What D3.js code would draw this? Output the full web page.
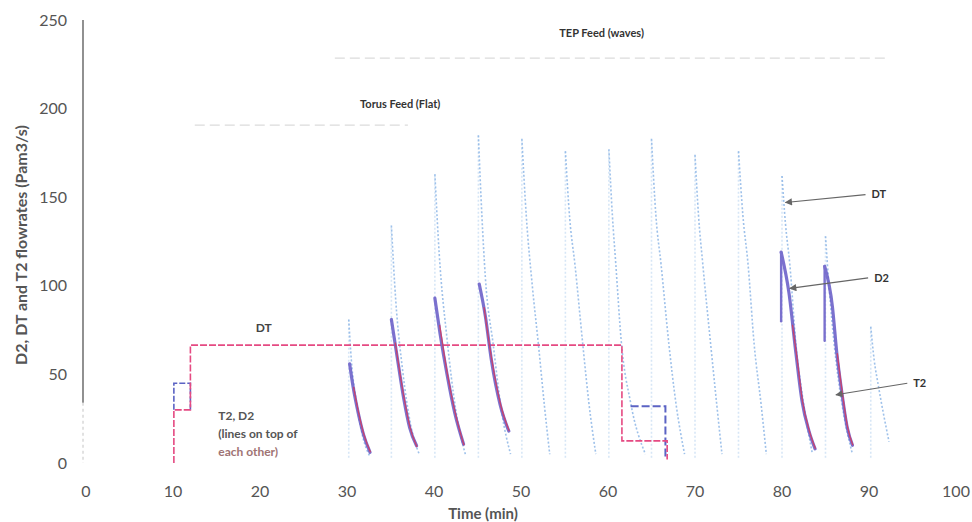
<!DOCTYPE html>
<html><head><meta charset="utf-8">
<script src="https://cdn.jsdelivr.net/npm/d3@7"></script>
<style>
html,body{margin:0;padding:0;background:#fff;}
svg{display:block;font-family:Lato,"Open Sans",sans-serif;}
</style></head>
<body><svg id="chart" width="972" height="522"></svg>
<script>
// ---- data ----
const xTicks = [0,10,20,30,40,50,60,70,80,90,100];
const yTicks = [0,50,100,150,200,250];

// DT (TEP feed) waves: first point = peak (vertical rise from baseline), then decay
const dtWaves = [
  [[30.2,81],[30.5,58],[31.1,34],[31.8,15],[32.6,4]],
  [[35.1,134],[35.6,92],[36.4,52],[37.3,22],[38.3,5]],
  [[40.1,163],[40.6,118],[41.5,70],[42.5,30],[43.6,5]],
  [[45.1,185],[45.5,140],[45.9,105],[46.8,67],[47.8,28],[48.8,5]],
  [[50.1,183],[50.6,140],[51.3,100],[52.0,67],[52.7,32],[53.3,5]],
  [[55.1,176],[55.6,138],[56.2,112],[57.1,67],[57.8,34],[58.6,5]],
  [[60.1,177],[60.5,140],[60.9,112],[61.5,70],[62.6,34],[64.3,5]],
  [[65.0,183],[65.5,140],[66.1,112],[67.0,67],[67.8,34],[68.8,5]],
  [[70.0,174],[70.4,140],[70.9,112],[71.8,67],[72.5,33],[73.1,5]],
  [[75.0,176],[75.5,140],[76.1,112],[76.8,67],[77.6,33],[78.2,5]],
  [[80.0,162],[80.4,135],[80.9,112],[81.6,67],[82.5,33],[83.5,5]],
  [[85.0,128],[85.4,100],[86.0,67],[86.9,33],[88.1,5]],
  [[90.2,77],[90.6,58],[91.1,43],[92.3,12]]
];
const dtBase = 3;

// D2 waves (purple)
const d2Waves = [
  [[30.3,56],[30.7,43],[31.3,28],[31.9,16],[32.65,6]],
  [[35.1,81],[35.7,62],[36.5,37],[37.2,20],[38.0,9.7]],
  [[40.1,93],[40.7,73],[41.5,50],[42.4,28],[43.4,10.6]],
  [[45.2,101],[45.9,83],[46.6,58],[47.6,33],[48.6,18]],
  [[79.9,119],[80.8,96],[81.6,62],[82.3,35],[83.1,18],[83.8,8]],
  [[84.9,111],[85.8,88],[86.3,62],[86.9,39],[87.5,20],[88.1,10]]
];
// D2 rises (t, start value, peak value) for the last two pulses
const d2Rises = [[79.9,80,119],[84.9,69,111]];

// T2 waves (red), lying on the D2 decays
const t2Waves = [
  [[30.75,43],[31.35,28],[31.95,16],[32.7,6]],
  [[35.55,68],[36.55,37],[37.25,20],[38.05,9]],
  [[40.65,78],[41.55,50],[42.45,28],[43.45,10]],
  [[45.75,88],[46.65,58],[47.65,33],[48.65,18]],
  [[81.2,78],[81.65,62],[82.35,35],[83.15,18],[83.85,8]],
  [[86.35,62],[86.95,39],[87.55,20],[88.15,10]]
];

// Flat (torus feed) lines
const flatDT = [[10.1,0],[10.1,30],[12,30],[12,66.5],[61.6,66.5],[61.6,12.5],[66.8,12.5],[66.8,2]];
const flatD2a = [[10.1,30],[10.1,45],[12,45],[12,30]];
const flatD2b = [[62.6,32],[66.6,32],[66.6,2]];

// faint annotation guide lines [t0, t1, value]
const tepGuide = [28.6, 92.2, 228.5];
const torusGuide = [12.5, 37.0, 190.7];

// ---- chart ----
const svg = d3.select("#chart");
const x = d3.scaleLinear().domain([0,100]).range([86,956]);
const y = d3.scaleLinear().domain([0,250]).range([463,20]);

// axis line
svg.append("line").attr("x1",x(0)-3).attr("x2",x(0)-3).attr("y1",y(250)).attr("y2",y(34))
  .attr("stroke","#555").attr("stroke-width",1.3);
svg.append("line").attr("x1",x(0)-3).attr("x2",x(0)-3).attr("y1",y(34)).attr("y2",y(0))
  .attr("stroke","#c4c4c4").attr("stroke-width",1).attr("stroke-dasharray","3,3");

// tick labels
svg.append("g").selectAll("text").data(yTicks).join("text")
  .attr("x",67).attr("y",d=>y(d)).attr("dy","0.35em").attr("text-anchor","end")
  .attr("font-size",16).attr("fill","#555").text(d=>d);
svg.append("g").selectAll("text").data(xTicks).join("text")
  .attr("x",d=>x(d)).attr("y",491).attr("dy","0.35em").attr("text-anchor","middle")
  .attr("font-size",16).attr("fill","#555").text(d=>d);

svg.append("text").attr("x",483).attr("y",514).attr("dy","0.35em").attr("text-anchor","middle")
  .attr("font-size",15).attr("font-weight","bold").attr("fill","#555").text("Time (min)");
svg.append("text").attr("transform","translate(21,245) rotate(-90)").attr("dy","0.35em")
  .attr("text-anchor","middle").attr("font-size",16).attr("font-weight","bold").attr("fill","#555")
  .text("D2, DT and T2 flowrates (Pam3/s)");

// guides
[tepGuide, torusGuide].forEach(g=>{
  svg.append("line").attr("x1",x(g[0])).attr("x2",x(g[1])).attr("y1",y(g[2])).attr("y2",y(g[2]))
    .attr("stroke","#dcdcdc").attr("stroke-width",1.2).attr("stroke-dasharray","10,5");
});

const curveLine = d3.line().x(d=>x(d[0])).y(d=>y(d[1])).curve(d3.curveMonotoneX);
const straight = d3.line().x(d=>x(d[0])).y(d=>y(d[1]));

// DT waves
const gDT = svg.append("g").attr("fill","none").attr("stroke","#8db6e6")
  .attr("stroke-width",1.6).attr("stroke-dasharray","2,2");
dtWaves.forEach(w=>{
  gDT.append("path").attr("d",straight([[w[0][0],dtBase],w[0]])).attr("opacity",0.35);
  gDT.append("path").attr("d",curveLine(w)).attr("opacity",0.85);
});

// flat lines
svg.append("path").attr("d",straight(flatD2a)).attr("fill","none").attr("stroke","#5b63c4")
  .attr("stroke-width",1.6).attr("stroke-dasharray","6,2");
svg.append("path").attr("d",straight(flatD2b)).attr("fill","none").attr("stroke","#5b63c4")
  .attr("stroke-width",2).attr("stroke-dasharray","8,3");
svg.append("path").attr("d",straight(flatDT)).attr("fill","none").attr("stroke","#e54a82")
  .attr("stroke-width",1.6).attr("stroke-dasharray","7,2");

// D2 waves
const gD2 = svg.append("g").attr("fill","none").attr("stroke","#6d62c9")
  .attr("stroke-width",3.2).attr("stroke-linecap","round").attr("opacity",0.9);
d2Waves.forEach(w=> gD2.append("path").attr("d",curveLine(w)));
d2Rises.forEach(r=> gD2.append("path").attr("d",straight([[r[0],r[1]],[r[0],r[2]]])).attr("stroke-width",2.4));

// T2 waves
const gT2 = svg.append("g").attr("fill","none").attr("stroke","#d83a5c")
  .attr("stroke-width",1.3).attr("opacity",0.85);
t2Waves.forEach(w=> gT2.append("path").attr("d",curveLine(w)));

// annotations
function label(tx, ty, txt, size, color){
  svg.append("text").attr("x",tx).attr("y",ty).attr("dy","0.35em")
    .attr("font-size",size).attr("font-weight","bold").attr("fill",color||"#333").text(txt);
}
label(x(54.4), 33, "TEP Feed (waves)", 11, "#333");
label(x(31.5), 104, "Torus Feed (Flat)", 11, "#333");
label(x(19.5), 328, "DT", 12, "#444");
label(x(15.2), 416, "T2, D2", 12, "#555");
label(x(15.2), 434, "(lines on top of", 12, "#555");
label(x(15.2), 452, "each other)", 12, "#a07474");

// arrows
const defs = svg.append("defs");
defs.append("marker").attr("id","ah").attr("viewBox","0 0 10 10").attr("refX",9).attr("refY",5)
  .attr("markerWidth",7).attr("markerHeight",6).attr("orient","auto")
  .append("path").attr("d","M0,0L10,5L0,10z").attr("fill","#666");
const arrows = [
  {from:[89.6,151.5], to:[80.4,147], txt:"DT"},
  {from:[89.9,104.5], to:[80.9,98.5], txt:"D2"},
  {from:[94.4,45], to:[86.2,38.5], txt:"T2"}
];
arrows.forEach(a=>{
  svg.append("line").attr("x1",x(a.from[0])).attr("y1",y(a.from[1]))
    .attr("x2",x(a.to[0])).attr("y2",y(a.to[1]))
    .attr("stroke","#666").attr("stroke-width",1.2).attr("marker-end","url(#ah)");
  label(x(a.from[0])+6, y(a.from[1]), a.txt, 11, "#333");
});
</script></body></html>
